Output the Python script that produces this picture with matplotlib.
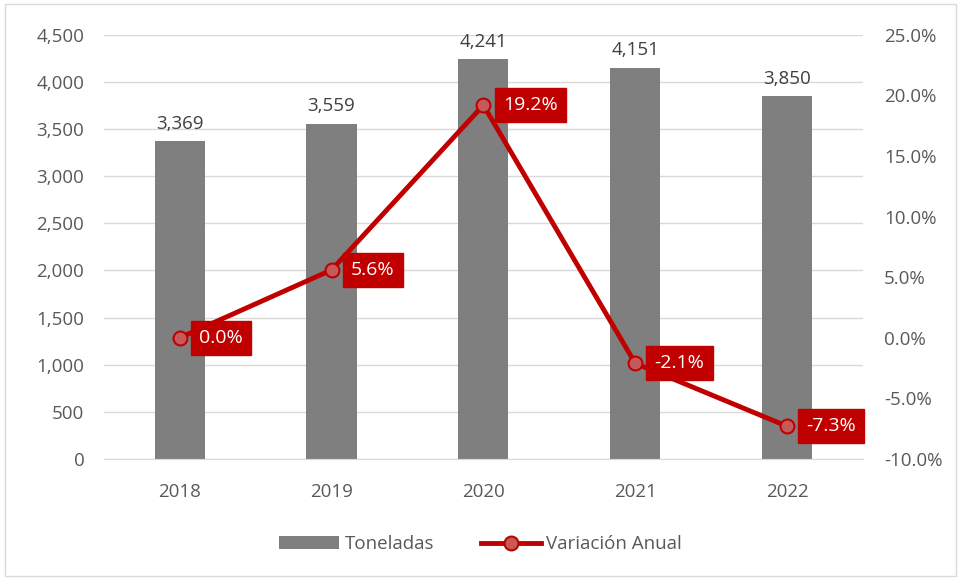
import matplotlib
matplotlib.use("Agg")
import matplotlib.pyplot as plt
from matplotlib.patches import Rectangle
from matplotlib.ticker import FuncFormatter, MultipleLocator

years = ["2018", "2019", "2020", "2021", "2022"]
toneladas = [3369, 3559, 4241, 4151, 3850]
variacion = [0.0, 5.6, 19.2, -2.1, -7.3]

plt.rcParams['font.family'] = ['Open Sans', 'DejaVu Sans']
gray_txt = "#595959"
red = "#C00000"

fig = plt.figure(figsize=(9.61, 5.81), dpi=100)
ax = fig.add_axes([0.108, 0.21, 0.79, 0.73])
ax2 = ax.twinx()

x = list(range(len(years)))
bars = ax.bar(x, toneladas, width=0.33, color="#7F7F7F", label="Toneladas", zorder=2)
ax.set_ylim(0, 4500)
ax.yaxis.set_major_locator(MultipleLocator(500))
ax.yaxis.set_major_formatter(FuncFormatter(lambda v, p: f"{int(v):,}"))
ax.set_xlim(-0.5, len(years) - 0.5)
ax.set_xticks(x)
ax.set_xticklabels(years)
ax.grid(axis="y", color="#D9D9D9", linewidth=1, zorder=0)
ax.set_axisbelow(True)

# etiquetas sobre las barras
for xi, v in zip(x, toneladas):
    ax.annotate(f"{v:,}", (xi, v), xytext=(0, 6), textcoords="offset points",
                ha="center", va="bottom", fontsize=13.5, color="#404040")

line, = ax2.plot(x, variacion, color=red, linewidth=3.5, marker="o", markersize=10,
                 markerfacecolor="#C55A5A", markeredgecolor=red, markeredgewidth=1.5,
                 label="Variación Anual", zorder=3)
ax2.set_ylim(-10, 25)
ax2.yaxis.set_major_locator(MultipleLocator(5))
ax2.yaxis.set_major_formatter(FuncFormatter(lambda v, p: f"{v:.1f}%"))

# etiquetas de variacion en cajas rojas
for xi, v in zip(x, variacion):
    ax2.annotate(f"{v:.1f}%", (xi, v), xytext=(14, 0), textcoords="offset points",
                 ha="left", va="center", fontsize=14, color="white",
                 bbox=dict(boxstyle="square,pad=0.42", facecolor=red, edgecolor=red))

for a in (ax, ax2):
    for s in a.spines.values():
        s.set_visible(False)
    a.tick_params(length=0, labelsize=13.5, labelcolor=gray_txt)
ax.tick_params(axis="x", pad=17)
ax.tick_params(axis="y", pad=14)
ax2.tick_params(axis="y", pad=15)
ax.spines["bottom"].set_visible(True)
ax.spines["bottom"].set_color("#D9D9D9")

fig.legend(handles=[bars, line], labels=["Toneladas", "Variación Anual"],
           loc="center", bbox_to_anchor=(0.5, 0.063), ncol=2, frameon=False,
           fontsize=13.5, labelcolor=gray_txt, handlelength=3.2, columnspacing=2.5,
           handletextpad=0.3)

fig.patches.append(Rectangle((0.005, 0.008), 0.99, 0.985, transform=fig.transFigure,
                             fill=False, edgecolor="#D9D9D9", linewidth=1))

fig.savefig("out.png", dpi=100)
